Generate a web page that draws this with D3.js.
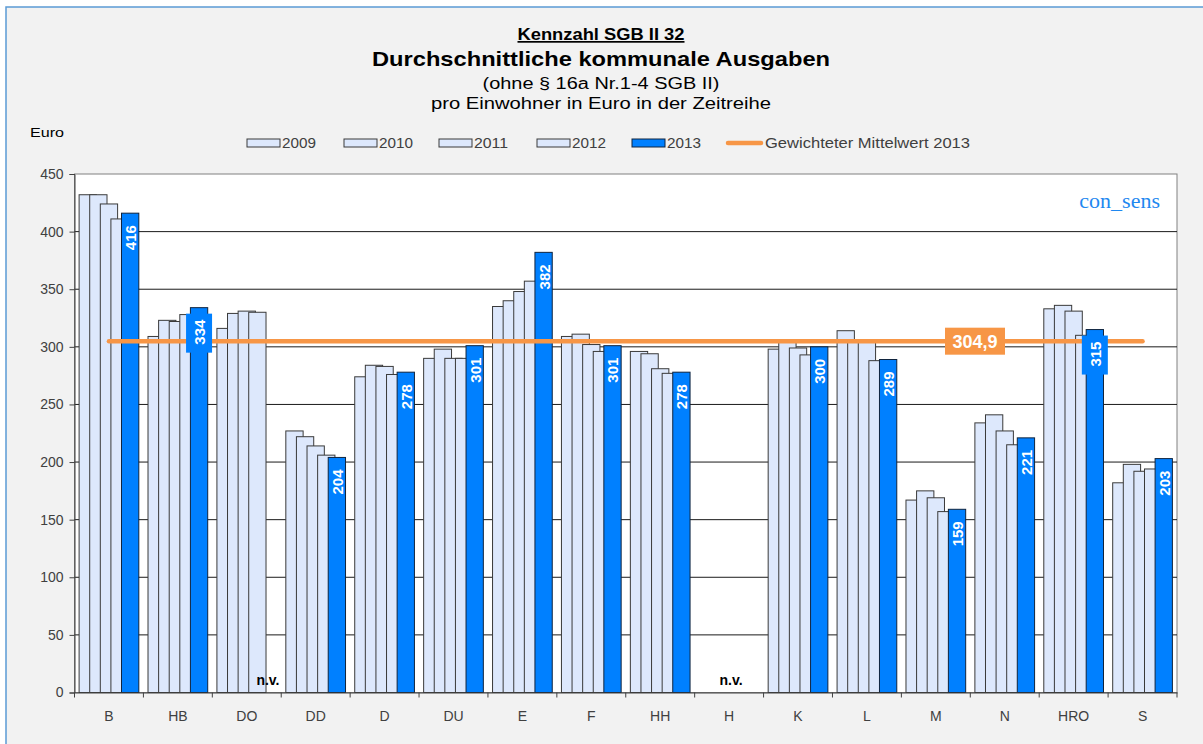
<!DOCTYPE html>
<html>
<head>
<meta charset="utf-8">
<script src="https://cdn.jsdelivr.net/npm/d3@7"></script>
<style>
  html, body { margin: 0; padding: 0; background: #fff; }
  text { font-family: "Liberation Sans", Arial, sans-serif; }
  text.serif { font-family: "Liberation Serif", "Times New Roman", serif; }
</style>
</head>
<body>
<div id="chart"></div>
<script>
// ---- data ----
const categories = ["B", "HB", "DO", "DD", "D", "DU", "E", "F", "HH", "H", "K", "L", "M", "N", "HRO", "S"];
const years = ["2009", "2010", "2011", "2012", "2013"];
const v2009 = [432, 309, 316, 227, 274, 290, 335, 309, 296, null, 298, 314, 167, 234, 333, 182];
const v2010 = [432, 323, 329, 222, 284, 298, 340, 311, 294, null, 306, 306, 175, 241, 336, 198];
const v2011 = [424, 322, 331, 214, 283, 290, 348, 302, 281, null, 299, 304, 169, 227, 331, 192];
const v2012 = [411, 328, 330, 206, 276, 290, 357, 296, 277, null, 293, 288, 157, 215, 310, 194];
const v2013 = [416, 334, null, 204, 278, 301, 382, 301, 278, null, 300, 289, 159, 221, 315, 203];
const series = [v2009, v2010, v2011, v2012, v2013];
const meanValue = 304.9;
const meanLabel = "304,9";
const yTicks = [0, 50, 100, 150, 200, 250, 300, 350, 400, 450];

const width = 1203, height = 744;
const plot = { left: 74.5, right: 1177, top: 174, bottom: 692.5 };
const lightFill = "#dde8fc", darkFill = "#0080ff";

let svg = d3.select("#chart").append("svg")
    .attr("width", width)
    .attr("height", height);

//=================================================
// background + frame
//=================================================
svg.append("rect").attr("x", 6).attr("y", 7).attr("width", width).attr("height", height)
    .attr("fill", "#f2f2f2").attr("stroke", "#5b9bd5").attr("stroke-width", 1.5);
svg.append("rect").attr("x", plot.left).attr("y", plot.top)
    .attr("width", plot.right - plot.left).attr("height", plot.bottom - plot.top)
    .attr("fill", "#fff").attr("stroke", "#808080");

//=================================================
// titles (reference text is drawn a bit wide, so stretch to its measured length)
//=================================================
const cx = 601;
function title(y, size, bold, len, str) {
    return svg.append("text").attr("x", cx).attr("y", y).attr("text-anchor", "middle")
        .attr("font-size", size).attr("font-weight", bold ? "bold" : "normal")
        .attr("textLength", len).attr("lengthAdjust", "spacingAndGlyphs")
        .text(str);
}
title(40, 17, true, 167, "Kennzahl SGB II 32").attr("text-decoration", "underline");
title(66, 21, true, 458, "Durchschnittliche kommunale Ausgaben");
title(89, 16, false, 237, "(ohne § 16a Nr.1-4 SGB II)");
title(109, 16, false, 340, "pro Einwohner in Euro in der Zeitreihe");
svg.append("text").attr("x", 30).attr("y", 137).attr("font-size", 13)
    .attr("textLength", 34).attr("lengthAdjust", "spacingAndGlyphs").text("Euro");

//=================================================
// scales
//=================================================
let scaleX = d3.scaleBand().domain(categories).range([plot.left, plot.right]).padding(0);
let scaleY = d3.scaleLinear().domain([0, 450]).range([plot.bottom, plot.top]);
const barW = 17.3, step = 10.6;
const groupW = step * (years.length - 1) + barW;
let offset = d3.scaleLinear().domain([0, years.length - 1])
    .range([(scaleX.bandwidth() - groupW) / 2, (scaleX.bandwidth() - groupW) / 2 + step * (years.length - 1)]);

// grid lines
svg.append("g").selectAll("line").data(yTicks.filter(t => t > 0 && t < 450)).join("line")
    .attr("x1", plot.left).attr("x2", plot.right)
    .attr("y1", d => scaleY(d)).attr("y2", d => scaleY(d))
    .attr("stroke", "#1a1a1a").attr("stroke-width", 1);

//=================================================
// bars
//=================================================
let barsG = svg.append("g");
categories.forEach((c, i) => {
    series.forEach((s, k) => {
        if (s[i] == null) return;
        barsG.append("rect")
            .attr("x", scaleX(c) + offset(k))
            .attr("y", scaleY(s[i]))
            .attr("width", barW)
            .attr("height", scaleY(0) - scaleY(s[i]))
            .attr("fill", k === 4 ? darkFill : lightFill)
            .attr("stroke", k === 4 ? "#10243e" : "#3a3a3a")
            .attr("stroke-width", 1);
    });
});

//=================================================
// axes
//=================================================
let axisY = svg.append("g").attr("transform", "translate(" + plot.left + ",0)")
    .call(d3.axisLeft(scaleY).tickValues(yTicks).tickSize(5).tickPadding(6));
axisY.select(".domain").attr("stroke", "#404040");
axisY.selectAll(".tick line").attr("stroke", "#404040");
axisY.selectAll("text").attr("font-size", 14).attr("fill", "#404040")
    .style("font-family", "Liberation Sans, Arial, sans-serif");

let axisX = svg.append("g").attr("transform", "translate(0," + plot.bottom + ")")
    .call(d3.axisBottom(scaleX).tickSize(0).tickPadding(19));
axisX.select(".domain").attr("stroke", "#404040");
axisX.selectAll("text").attr("font-size", 14).attr("fill", "#404040")
    .style("font-family", "Liberation Sans, Arial, sans-serif");
svg.append("g").selectAll("line").data(d3.range(categories.length + 1)).join("line")
    .attr("x1", d => plot.left + d * scaleX.step()).attr("x2", d => plot.left + d * scaleX.step())
    .attr("y1", plot.bottom).attr("y2", plot.bottom + 5)
    .attr("stroke", "#404040");

//=================================================
// mean line
//=================================================
const firstC = scaleX(categories[0]) + scaleX.bandwidth() / 2;
const lastC = scaleX(categories[categories.length - 1]) + scaleX.bandwidth() / 2;
svg.append("line")
    .attr("x1", firstC).attr("x2", lastC)
    .attr("y1", scaleY(meanValue)).attr("y2", scaleY(meanValue))
    .attr("stroke", "#f79646").attr("stroke-width", 4.5).attr("stroke-linecap", "round");

svg.append("rect").attr("x", 945).attr("y", scaleY(meanValue) - 13.5)
    .attr("width", 60).attr("height", 27).attr("fill", "#f79646");
svg.append("text").attr("x", 975).attr("y", scaleY(meanValue) + 1)
    .attr("text-anchor", "middle").attr("dominant-baseline", "central")
    .attr("font-size", 18).attr("font-weight", "bold").attr("fill", "#fff")
    .text(meanLabel);

//=================================================
// value labels on 2013 bars
//=================================================
let labelsG = svg.append("g");
categories.forEach((c, i) => {
    const v = v2013[i];
    const bx = scaleX(c) + offset(4) + barW / 2;
    if (v == null) return;
    const top = scaleY(v) + 6;
    const boxH = 39;
    const my = scaleY(meanValue);
    if (top < my + 3 && top + boxH > my - 3) {
        labelsG.append("rect").attr("x", bx - 13).attr("y", top)
            .attr("width", 26).attr("height", boxH).attr("fill", darkFill);
    }
    labelsG.append("text")
        .attr("transform", "translate(" + (bx + 0.5) + "," + (top + 6) + ") rotate(-90)")
        .attr("text-anchor", "end").attr("dominant-baseline", "central")
        .attr("font-size", 15).attr("font-weight", "bold").attr("fill", "#fff")
        .text(v);
});

// n.v. labels for missing values
categories.forEach((c, i) => {
    const allMissing = series.every(s => s[i] == null);
    if (v2013[i] != null) return;
    const x = allMissing ? scaleX(c) + scaleX.bandwidth() / 2 + 2 : scaleX(c) + offset(4) + barW / 2;
    svg.append("text").attr("x", x).attr("y", 685)
        .attr("text-anchor", "middle").attr("font-size", 14).attr("font-weight", "bold")
        .text("n.v.");
});

//=================================================
// legend
//=================================================
const legendX = [247, 344, 439, 537, 632];
let legend = svg.append("g");
years.forEach((y, k) => {
    legend.append("rect").attr("x", legendX[k]).attr("y", 139).attr("width", 33).attr("height", 8)
        .attr("fill", k === 4 ? darkFill : lightFill)
        .attr("stroke", k === 4 ? "#10243e" : "#3a3a3a");
    legend.append("text").attr("x", legendX[k] + 35).attr("y", 148)
        .attr("font-size", 14).attr("fill", "#404040")
        .attr("textLength", 34).attr("lengthAdjust", "spacingAndGlyphs").text(y);
});
legend.append("line").attr("x1", 728).attr("x2", 761).attr("y1", 143).attr("y2", 143)
    .attr("stroke", "#f79646").attr("stroke-width", 4.5).attr("stroke-linecap", "round");
legend.append("text").attr("x", 765).attr("y", 148).attr("font-size", 14).attr("fill", "#404040")
    .attr("textLength", 205).attr("lengthAdjust", "spacingAndGlyphs")
    .text("Gewichteter  Mittelwert  2013");

// watermark
svg.append("text").attr("class", "serif").attr("x", 1160).attr("y", 208).attr("text-anchor", "end")
    .attr("font-size", 22).attr("fill", "#1e88f0").text("con_sens");
</script>
</body>
</html>
